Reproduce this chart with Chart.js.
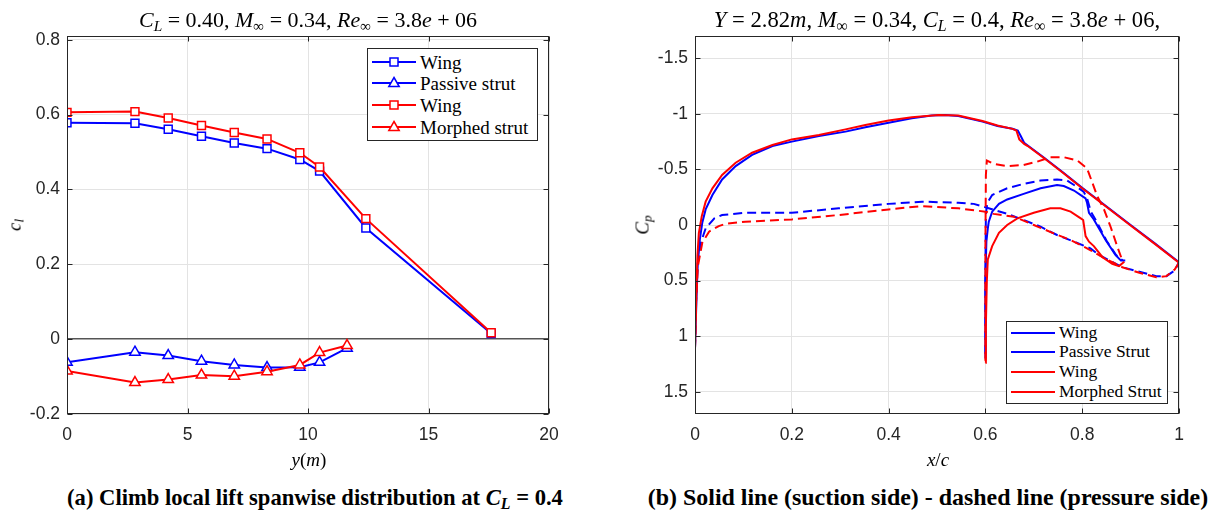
<!DOCTYPE html>
<html><head><meta charset="utf-8">
<script src="https://cdn.jsdelivr.net/npm/chart.js@4.4.1/dist/chart.umd.min.js"></script>
<style>
html,body{margin:0;padding:0;background:#fff}
body{position:relative;width:1213px;height:514px;overflow:hidden}
canvas{position:absolute;top:0}
.tx{position:absolute;white-space:nowrap;font-family:"Liberation Serif","Times New Roman",serif;color:#000;transform:translate(-50%,-50%);line-height:1}
.tx sub,.leg sub{font-size:0.7em;vertical-align:-0.25em;line-height:0}
.rot{transform:translate(-50%,-50%) rotate(-90deg)}
.cap{font-weight:bold}
.leg{position:absolute;border:1px solid #262626;background:#fff;box-sizing:border-box}
.leg svg{position:absolute;left:4px}
.leg span{position:absolute;white-space:nowrap;font-family:"Liberation Serif","Times New Roman",serif;color:#000;transform:translateY(-50%);line-height:1}
</style></head>
<body>
<canvas id="cl" width="600" height="450" style="left:0px"></canvas>
<canvas id="cp" width="593" height="450" style="left:620px"></canvas>

<div class="tx" data-w="338" style="left:308px;top:20px;font-size:18px"><i>C</i><sub><i>L</i></sub> = 0.40, <i>M</i><sub>∞</sub> = 0.34, <i>Re</i><sub>∞</sub> = 3.8<i>e</i> + 06</div>
<div class="tx" data-w="446" style="left:937px;top:20px;font-size:18px"><i>Y</i> = 2.82<i>m</i>, <i>M</i><sub>∞</sub> = 0.34, <i>C</i><sub><i>L</i></sub> = 0.4, <i>Re</i><sub>∞</sub> = 3.8<i>e</i> + 06,</div>
<div class="tx" style="left:309px;top:459px;font-size:19px"><i>y</i>(<i>m</i>)</div>
<div class="tx" style="left:938px;top:459px;font-size:19px"><i>x</i>/<i>c</i></div>
<div class="tx rot" style="left:14px;top:225px;font-size:19px"><i>c</i><sub><i>l</i></sub></div>
<div class="tx rot" style="left:642px;top:225px;font-size:19px"><i>C</i><sub><i>p</i></sub></div>
<div class="tx cap" data-w="496" style="left:315px;top:498px;font-size:20px">(a) Climb local lift spanwise distribution at <i>C<sub>L</sub></i> = 0.4</div>
<div class="tx cap" data-w="561" style="left:928px;top:498px;font-size:20px">(b) Solid line (suction side) - dashed line (pressure side)</div>

<div class="leg" id="legL" style="left:367px;top:48px;width:171px;height:93px"></div>
<div class="leg" id="legR" style="left:1006px;top:321px;width:162px;height:83px"></div>

<script>
// ---------------- Left panel: local lift coefficient vs span ----------------
const spanWing  = [0, 2.82, 4.2, 5.58, 6.94, 8.3, 9.66, 10.48, 12.4, 17.6];
const clWingPassive = [0.578, 0.577, 0.561, 0.542, 0.524, 0.509, 0.480, 0.449, 0.297, 0.015];
const clWingMorphed = [0.606, 0.608, 0.591, 0.571, 0.552, 0.535, 0.498, 0.460, 0.322, 0.017];
const spanStrut = [0, 2.82, 4.2, 5.58, 6.94, 8.3, 9.66, 10.48, 11.62];
const clStrutPassive = [-0.062, -0.035, -0.044, -0.059, -0.069, -0.076, -0.075, -0.062, -0.024];
const clStrutMorphed = [-0.085, -0.116, -0.108, -0.096, -0.099, -0.087, -0.069, -0.036, -0.017];
const spanTicks = [0, 5, 10, 15, 20];
const spanTickLabels = ['0', '5', '10', '15', '20'];
const clTicks = [-0.2, 0, 0.2, 0.4, 0.6, 0.8];
const clTickLabels = ['-0.2', '0', '0.2', '0.4', '0.6', '0.8'];
const legendLeftLabels = ['Wing', 'Passive strut', 'Wing', 'Morphed strut'];

// ---------------- Right panel: Cp at Y = 2.82 m ----------------
const xWingUpP  = [0, 0.003, 0.0055, 0.01, 0.015, 0.022, 0.036, 0.056, 0.084, 0.118, 0.16, 0.2, 0.256, 0.311, 0.352, 0.4, 0.448, 0.489, 0.517, 0.544, 0.594, 0.625, 0.656, 0.667, 0.673, 0.68, 0.6875, 0.72, 0.76, 0.8, 0.845, 0.9, 0.95, 1.0];
const cpWingUpP = [1.11, 0.67, 0.37, 0.13, -0.02, -0.14, -0.27, -0.41, -0.53, -0.63, -0.71, -0.75, -0.80, -0.84, -0.88, -0.92, -0.96, -0.985, -0.99, -0.98, -0.93, -0.89, -0.865, -0.85, -0.80, -0.74, -0.715, -0.61, -0.475, -0.335, -0.185, 0.0, 0.165, 0.335];
const xWingLoP  = [0, 0.002, 0.005, 0.012, 0.022, 0.03, 0.04, 0.056, 0.104, 0.2, 0.297, 0.4, 0.469, 0.544, 0.576, 0.6, 0.645, 0.679, 0.714, 0.748, 0.783, 0.817, 0.835, 0.883, 0.918, 0.953, 0.974, 0.991, 1.0];
const cpWingLoP = [1.11, 0.7, 0.37, 0.16, 0.03, -0.01, -0.06, -0.09, -0.11, -0.11, -0.15, -0.19, -0.21, -0.20, -0.19, -0.16, -0.10, -0.045, 0.015, 0.09, 0.15, 0.21, 0.27, 0.38, 0.42, 0.46, 0.46, 0.41, 0.335];
const xStrutUpP  = [0.6, 0.6, 0.602, 0.605, 0.607, 0.614, 0.628, 0.645, 0.679, 0.714, 0.748, 0.762, 0.783, 0.8, 0.807, 0.81, 0.814, 0.824, 0.849, 0.869, 0.88, 0.889];
const cpStrutUpP = [1.2, 0.5, 0.15, 0.03, -0.03, -0.12, -0.19, -0.23, -0.28, -0.33, -0.36, -0.35, -0.31, -0.26, -0.24, -0.20, -0.11, -0.05, 0.14, 0.27, 0.32, 0.32];
const xStrutLoP  = [0.6, 0.6, 0.601, 0.604, 0.614, 0.645, 0.679, 0.714, 0.748, 0.769, 0.79, 0.803, 0.81, 0.818, 0.83, 0.85, 0.87, 0.884];
const cpStrutLoP = [1.16, 0.4, -0.1, -0.2, -0.27, -0.33, -0.37, -0.40, -0.41, -0.40, -0.34, -0.30, -0.24, -0.12, -0.03, 0.14, 0.27, 0.32];

const xWingUpM  = [0, 0.003, 0.005, 0.008, 0.014, 0.022, 0.036, 0.056, 0.084, 0.118, 0.16, 0.2, 0.256, 0.311, 0.352, 0.4, 0.448, 0.503, 0.544, 0.594, 0.625, 0.656, 0.664, 0.67, 0.68, 0.6875, 0.72, 0.76, 0.8, 0.845, 0.9, 0.95, 1.0];
const cpWingUpM = [1.11, 0.60, 0.28, 0.07, -0.08, -0.21, -0.33, -0.45, -0.56, -0.65, -0.72, -0.77, -0.81, -0.86, -0.90, -0.94, -0.97, -0.99, -0.985, -0.935, -0.895, -0.865, -0.85, -0.77, -0.73, -0.71, -0.605, -0.47, -0.33, -0.18, 0.005, 0.17, 0.34];
const xWingLoM  = [0, 0.002, 0.006, 0.015, 0.029, 0.049, 0.063, 0.104, 0.2, 0.297, 0.4, 0.469, 0.544, 0.6, 0.617, 0.659, 0.7, 0.741, 0.776, 0.81, 0.842, 0.883, 0.918, 0.953, 0.974, 0.991, 1.0];
const cpWingLoM = [1.11, 0.7, 0.37, 0.16, 0.06, 0.01, -0.01, -0.03, -0.05, -0.09, -0.14, -0.17, -0.15, -0.12, -0.10, -0.075, 0.0, 0.075, 0.135, 0.21, 0.29, 0.38, 0.43, 0.47, 0.46, 0.40, 0.34];
const xStrutUpM  = [0.6, 0.601, 0.603, 0.605, 0.614, 0.628, 0.645, 0.666, 0.7, 0.734, 0.755, 0.776, 0.797, 0.802, 0.807, 0.814, 0.824, 0.842, 0.862, 0.876, 0.887];
const cpStrutUpM = [1.24, 0.9, 0.5, 0.31, 0.19, 0.07, 0.0, -0.06, -0.11, -0.15, -0.15, -0.12, -0.06, -0.045, 0.10, 0.15, 0.19, 0.29, 0.35, 0.37, 0.33];
const xStrutLoM  = [0.6, 0.6, 0.601, 0.603, 0.617, 0.645, 0.679, 0.707, 0.734, 0.762, 0.79, 0.81, 0.821, 0.831, 0.845, 0.859, 0.873, 0.883];
const cpStrutLoM = [1.22, 0.2, -0.45, -0.58, -0.55, -0.53, -0.54, -0.57, -0.61, -0.61, -0.58, -0.51, -0.38, -0.26, -0.14, 0.02, 0.20, 0.32];

const xcTicks = [0, 0.2, 0.4, 0.6, 0.8, 1];
const xcTickLabels = ['0', '0.2', '0.4', '0.6', '0.8', '1'];
const cpTicks = [-1.5, -1, -0.5, 0, 0.5, 1, 1.5];
const cpTickLabels = ['-1.5', '-1', '-0.5', '0', '0.5', '1', '1.5'];
const legendRightLabels = ['Wing', 'Passive Strut', 'Wing', 'Morphed Strut'];

// ---------------- styling ----------------
const BLUE = '#0000ff', RED = '#ff0000', GRID = '#e3e3e3', AX = '#262626';
const tickFont = {family: '"Liberation Sans", Arial, sans-serif', size: 17.5};
const zip = (xs, ys) => xs.map((x, i) => ({x, y: ys[i]}));
const fixedTicks = vals => s => { s.ticks = vals.map(v => ({value: v})); };

const frame = {
  id: 'frame',
  afterDraw(chart) {
    const {ctx, chartArea: a, scales: {x, y}} = chart;
    ctx.save();
    ctx.strokeStyle = AX; ctx.lineWidth = 1;
    const L = Math.round(a.left) + 0.5, R = Math.round(a.right) - 0.5, T = Math.round(a.top) + 0.5, B = Math.round(a.bottom) - 0.5;
    ctx.strokeRect(L, T, R - L, B - T);
    const len = 5;
    ctx.beginPath();
    x.ticks.forEach(t => {
      const p = Math.round(x.getPixelForValue(t.value)) + 0.5;
      ctx.moveTo(p, B); ctx.lineTo(p, B - len);
      ctx.moveTo(p, T); ctx.lineTo(p, T + len);
    });
    y.ticks.forEach(t => {
      const p = Math.round(y.getPixelForValue(t.value)) + 0.5;
      ctx.moveTo(L, p); ctx.lineTo(L + len, p);
      ctx.moveTo(R, p); ctx.lineTo(R - len, p);
    });
    ctx.stroke();
    ctx.restore();
  }
};

function axisX(min, max, ticks, labels, h) {
  return {type: 'linear', min, max, afterBuildTicks: fixedTicks(ticks), afterFit: s => { s.height = h; },
    grid: {color: GRID, drawTicks: false}, border: {display: false},
    ticks: {font: tickFont, color: AX, padding: 11, maxRotation: 0, autoSkip: false, callback: (v, i) => labels[i]}};
}
function axisY(min, max, ticks, labels, w, extra) {
  return Object.assign({type: 'linear', min, max, afterBuildTicks: fixedTicks(ticks), afterFit: s => { s.width = w; },
    grid: {color: GRID, drawTicks: false}, border: {display: false},
    ticks: {font: tickFont, color: AX, padding: 7, autoSkip: false, callback: (v, i) => labels[i]}}, extra || {});
}
const base = {responsive: false, animation: false, devicePixelRatio: 1,
  plugins: {legend: {display: false}, tooltip: {enabled: false}}};

const leftY = axisY(-0.2, 0.81, clTicks, clTickLabels, 67);
leftY.grid = {drawTicks: false,
  color: c => (c.tick && c.tick.value === 0) ? '#555555' : GRID,
  lineWidth: c => (c.tick && c.tick.value === 0) ? 1.5 : 1};

const mk = (label, xs, ys, color, style, r, order) => ({label, data: zip(xs, ys), borderColor: color, borderWidth: 2,
  pointStyle: style, pointRadius: r, pointBorderWidth: 1.5, pointBorderColor: color, pointBackgroundColor: '#fff',
  backgroundColor: '#fff', tension: 0, order});

new Chart(document.getElementById('cl'), {
  type: 'line',
  data: {datasets: [
    mk(legendLeftLabels[0], spanWing, clWingPassive, BLUE, 'rect', 5.6, 2),
    mk(legendLeftLabels[1], spanStrut, clStrutPassive, BLUE, 'triangle', 6, 2),
    mk(legendLeftLabels[2], spanWing, clWingMorphed, RED, 'rect', 5.6, 1),
    mk(legendLeftLabels[3], spanStrut, clStrutMorphed, RED, 'triangle', 6, 1)
  ]},
  options: Object.assign({}, base, {
    layout: {padding: {left: 0, right: 51, top: 36, bottom: 0}},
    scales: {x: axisX(0, 20, spanTicks, spanTickLabels, 36), y: leftY}
  }),
  plugins: [frame]
});

const ln = (label, xs, ys, color, dashed, order) => ({label, data: zip(xs, ys), borderColor: color, borderWidth: 2,
  borderDash: dashed ? [9, 5] : [], pointRadius: 0, tension: 0, fill: false, order});

new Chart(document.getElementById('cp'), {
  type: 'line',
  data: {datasets: [
    ln('Wing', xWingUpP, cpWingUpP, BLUE, false, 2),
    ln('Wing pressure', xWingLoP, cpWingLoP, BLUE, true, 2),
    ln('Passive Strut', xStrutUpP, cpStrutUpP, BLUE, false, 2),
    ln('Passive Strut pressure', xStrutLoP, cpStrutLoP, BLUE, true, 2),
    ln('Wing', xWingUpM, cpWingUpM, RED, false, 1),
    ln('Wing pressure', xWingLoM, cpWingLoM, RED, true, 1),
    ln('Morphed Strut', xStrutUpM, cpStrutUpM, RED, false, 1),
    ln('Morphed Strut pressure', xStrutLoM, cpStrutLoM, RED, true, 1)
  ]},
  options: Object.assign({}, base, {
    layout: {padding: {left: 0, right: 34, top: 36, bottom: 0}},
    scales: {x: axisX(0, 1, xcTicks, xcTickLabels, 36), y: axisY(-1.7, 1.7, cpTicks, cpTickLabels, 75, {reverse: true})}
  }),
  plugins: [frame]
});

// ---------------- legends (HTML) ----------------
function buildLegend(id, labels, colors, markers, rowY, fontSize) {
  const box = document.getElementById(id);
  labels.forEach((lab, i) => {
    const c = colors[i], m = markers[i], y = rowY[i];
    const svgNS = 'http://www.w3.org/2000/svg';
    const svg = document.createElementNS(svgNS, 'svg');
    svg.setAttribute('width', '44'); svg.setAttribute('height', '16');
    svg.style.top = (y - 8) + 'px';
    let inner = `<line x1="0" y1="8" x2="44" y2="8" stroke="${c}" stroke-width="2"/>`;
    if (m === 'rect') inner += `<rect x="18" y="4" width="8" height="8" fill="#fff" stroke="${c}" stroke-width="1.5"/>`;
    if (m === 'triangle') inner += `<polygon points="22,2.5 27.2,11.5 16.8,11.5" fill="#fff" stroke="${c}" stroke-width="1.5"/>`;
    svg.innerHTML = inner;
    box.appendChild(svg);
    const sp = document.createElement('span');
    sp.textContent = lab;
    sp.style.left = '52px'; sp.style.top = y + 'px'; sp.style.fontSize = fontSize + 'px';
    box.appendChild(sp);
  });
}
buildLegend('legL', legendLeftLabels, [BLUE, BLUE, RED, RED], ['rect', 'triangle', 'rect', 'triangle'], [13, 34, 56, 78], 19);
buildLegend('legR', legendRightLabels, [BLUE, BLUE, RED, RED], [null, null, null, null], [11, 30, 50, 70], 17.5);

// fit selected texts to their measured widths in the reference
document.querySelectorAll('[data-w]').forEach(el => {
  const w = +el.dataset.w, fs = parseFloat(el.style.fontSize), cur = el.offsetWidth;
  if (cur > 0) el.style.fontSize = (fs * w / cur).toFixed(2) + 'px';
});
</script>
</body></html>
